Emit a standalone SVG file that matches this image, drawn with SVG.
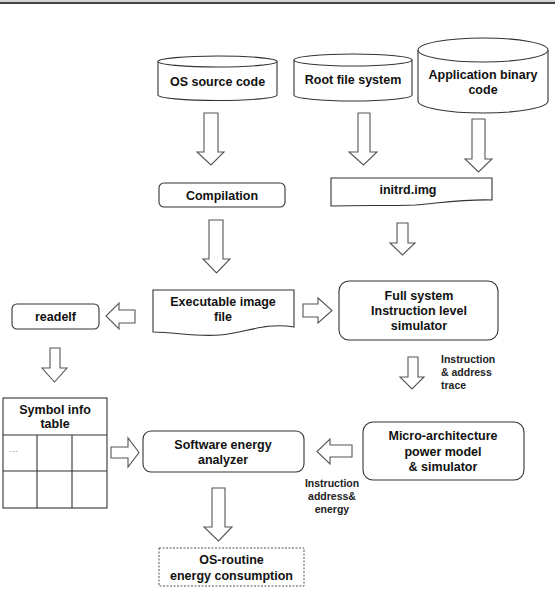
<svg xmlns="http://www.w3.org/2000/svg" width="555" height="599" viewBox="0 0 555 599">
<style>
.shape{fill:#fff;stroke:#333;stroke-width:1.1}
.arrow{fill:#fff;stroke:#555;stroke-width:1.1;stroke-linejoin:miter}
.t{font-family:"Liberation Sans",Arial,sans-serif;font-weight:bold;font-size:12.5px;fill:#111;text-anchor:middle}
.s{font-family:"Liberation Sans",Arial,sans-serif;font-weight:bold;font-size:10.5px;fill:#222}
</style>
<rect x="0" y="0" width="555" height="5" fill="#fff"/>
<line x1="0" y1="1" x2="555" y2="1" stroke="#aaa" stroke-width="1"/>
<line x1="0" y1="3" x2="555" y2="3" stroke="#444" stroke-width="2"/>

<g id="os-source">
<path class="shape" d="M158,61.5 V95 A59.5,5.5 0 0 0 277,95 V61.5"/>
<ellipse class="shape" cx="217.5" cy="61.5" rx="59.5" ry="5.5"/>
<text class="t" x="217.5" y="86">OS source code</text>
</g>
<g id="root-fs">
<path class="shape" d="M294,60 V95 A59,6 0 0 0 412,95 V60"/>
<ellipse class="shape" cx="353" cy="60" rx="59" ry="6"/>
<text class="t" x="353" y="84">Root file system</text>
</g>
<g id="app-binary">
<path class="shape" d="M418,50 V101 A65,12 0 0 0 548,101 V50"/>
<ellipse class="shape" cx="483" cy="50" rx="65" ry="12"/>
<text class="t" x="483" y="79">Application binary</text>
<text class="t" x="483" y="94">code</text>
</g>
<g id="compilation">
<rect class="shape" x="159" y="183" width="126" height="24" rx="5"/>
<text class="t" x="222" y="200">Compilation</text>
</g>
<g id="initrd">
<path class="shape" d="M331,178 H492 V200 C465,199 440,203 415,205 C390,206 360,205 331,206 Z"/>
<text class="t" x="408" y="194">initrd.img</text>
</g>
<g id="executable">
<path class="shape" d="M153,290 H294 V327 C265,322 245,333 220,335 C195,337 175,332 153,332 Z"/>
<text class="t" x="223" y="306">Executable image</text>
<text class="t" x="223" y="321">file</text>
</g>
<g id="readelf">
<rect class="shape" x="12" y="304" width="87" height="25" rx="5"/>
<text class="t" x="55.5" y="321">readelf</text>
</g>
<g id="full-system">
<rect class="shape" x="339" y="281" width="159" height="59" rx="10"/>
<text class="t" x="419" y="300">Full system</text>
<text class="t" x="419" y="315">Instruction level</text>
<text class="t" x="419" y="330">simulator</text>
</g>
<g id="symbol-table">
<rect class="shape" x="3" y="398" width="104" height="110"/>
<line class="shape" x1="3" y1="435" x2="107" y2="435"/>
<line class="shape" x1="3" y1="471" x2="107" y2="471"/>
<line class="shape" x1="37" y1="435" x2="37" y2="508"/>
<line class="shape" x1="72" y1="435" x2="72" y2="508"/>
<text class="t" x="55" y="414">Symbol info</text>
<text class="t" x="55" y="428">table</text>
<text x="9" y="452" font-family="Liberation Sans,Arial,sans-serif" font-size="9" fill="#888">…</text>
</g>
<g id="software-analyzer">
<rect class="shape" x="143" y="431" width="161" height="41" rx="8"/>
<text class="t" x="223" y="449">Software energy</text>
<text class="t" x="223" y="464">analyzer</text>
</g>
<g id="micro-arch">
<rect class="shape" x="363" y="422" width="161" height="58" rx="10"/>
<text class="t" x="443" y="440">Micro-architecture</text>
<text class="t" x="443" y="456">power model</text>
<text class="t" x="443" y="471">&amp; simulator</text>
</g>
<g id="os-routine">
<rect x="159" y="548" width="145" height="38" fill="#fff" stroke="#555" stroke-width="1" stroke-dasharray="2,1.5"/>
<text class="t" x="231.5" y="564">OS-routine</text>
<text class="t" x="231.5" y="580">energy consumption</text>
</g>

<g id="connectors">
<polygon class="arrow" points="204,113 218,113 218,152 224,152 211,165 197,152 204,152"/>
<polygon class="arrow" points="358,113 370,113 370,152 377,152 363.5,165 349,152 358,152"/>
<polygon class="arrow" points="472,119 485,119 485,159 492,159 478.5,172 465,159 472,159"/>
<polygon class="arrow" points="209,220 223,220 223,259 230,259 216.5,273 203,259 209,259"/>
<polygon class="arrow" points="397,223 408,223 408,243 415,243 402.5,255 390,243 397,243"/>
<polygon class="arrow" points="135,310 135,323 119,323 119,329 106,316 119,303 119,310"/>
<polygon class="arrow" points="303,304 318,304 318,298 332,310.5 318,323 318,317 303,317"/>
<polygon class="arrow" points="50,348 60,348 60,368 67,368 54.5,382 42,368 50,368"/>
<polygon class="arrow" points="408,357 418,357 418,377 424,377 412,389 400,377 408,377"/>
<polygon class="arrow" points="111,447 128,447 128,438 139,452.5 128,467 128,458 111,458"/>
<polygon class="arrow" points="352,445 352,457 330,457 330,464 317,451.5 330,439 330,445"/>
<polygon class="arrow" points="212,488 225,488 225,527 232,527 218.5,541 204,527 212,527"/>
<text class="s" x="441" y="363">Instruction</text>
<text class="s" x="441" y="376">&amp; address</text>
<text class="s" x="441" y="389">trace</text>
<text class="s" x="332" y="487" text-anchor="middle">Instruction</text>
<text class="s" x="332" y="500" text-anchor="middle">address&amp;</text>
<text class="s" x="332" y="513" text-anchor="middle">energy</text>
</g>
</svg>
